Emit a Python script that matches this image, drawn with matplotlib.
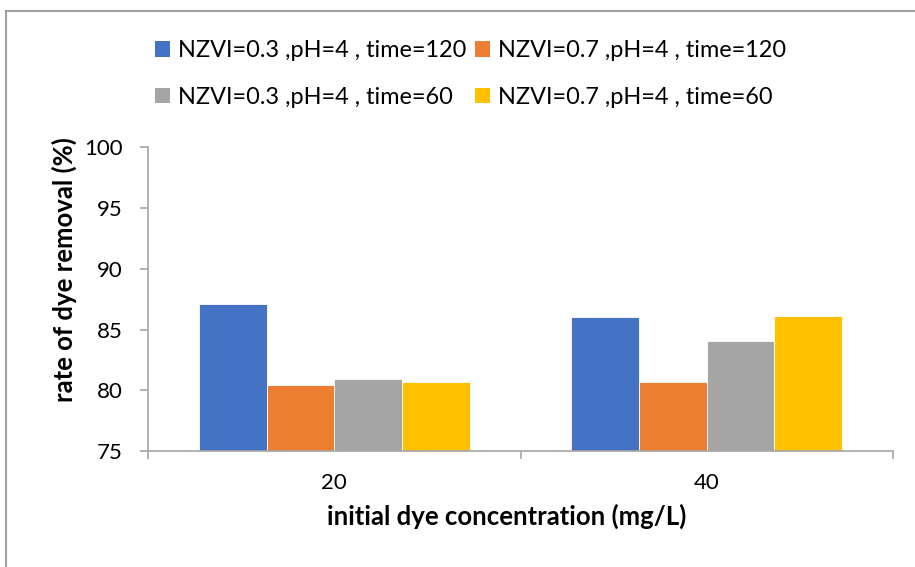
# bar chart: dye removal vs initial dye concentration

import matplotlib.pyplot as plt
from matplotlib.patches import Rectangle, Patch
import numpy as np

plt.rcParams['font.family'] = ['Lato', 'DejaVu Sans']

concentrations = ['20', '40']
series_labels = ['NZVI=0.3 ,pH=4 , time=120', 'NZVI=0.7 ,pH=4 , time=120',
                 'NZVI=0.3 ,pH=4 , time=60', 'NZVI=0.7 ,pH=4 , time=60']
blue_vals = [87.1, 86.0]
orange_vals = [80.4, 80.7]
gray_vals = [80.9, 84.05]
yellow_vals = [80.65, 86.15]
colors = ['#4472c4', '#ed7d31', '#a5a5a5', '#ffc000']

W, H = 915, 567
fig = plt.figure(figsize=(W / 100, H / 100), dpi=100)
ax = fig.add_axes([148 / W, 1 - 451 / H, (893 - 148) / W, (451 - 147.3) / H])

x = np.arange(len(concentrations))
width = 0.1817
all_vals = [blue_vals, orange_vals, gray_vals, yellow_vals]
for i, vals in enumerate(all_vals):
    ax.bar(x + (i - 1.5) * width, np.array(vals) - 75, width, bottom=75,
           color=colors[i], edgecolor='white', linewidth=0.6)

ax.set_xlim(-0.5, 1.5)
ax.set_ylim(75, 100)
ax.set_yticks([75, 80, 85, 90, 95, 100])
ax.set_xticks(x)
ax.set_xticklabels(concentrations)
ax.set_xticks([-0.5, 0.5, 1.5], minor=True)

axis_gray = '#a6a6a6'
for s in ['top', 'right']:
    ax.spines[s].set_visible(False)
for s in ['left', 'bottom']:
    ax.spines[s].set_color(axis_gray)
    ax.spines[s].set_linewidth(1.2)
ax.tick_params(axis='y', length=6, width=1.2, color=axis_gray, labelsize=16, pad=12)
ax.tick_params(axis='x', which='major', length=0, labelsize=16, pad=16)
ax.tick_params(axis='x', which='minor', length=6, width=1.2, color=axis_gray)

fig.text(507 / W, 1 - 516 / H, 'initial dye concentration (mg/L)', ha='center',
         va='center', fontsize=18.5, fontweight='bold')
fig.text(64 / W, 1 - 270 / H, 'rate of dye removal (%)', ha='center',
         va='center', fontsize=18.5, fontweight='bold', rotation=90)

# matplotlib fills legend columns first, so reorder to get Excel's row order
order = [0, 2, 1, 3]
handles = [Patch(facecolor=colors[i], edgecolor='none') for i in order]
labels = [series_labels[i] for i in order]
fig.legend(handles, labels, ncol=2, loc='upper left',
           bbox_to_anchor=(155 / W, 1 - 40 / H), frameon=False, fontsize=16.9,
           handlelength=0.64, handleheight=0.64, handletextpad=0.34,
           columnspacing=0.38, labelspacing=1.1, borderpad=0, borderaxespad=0)

# outer frame of the chart area
fig.patches.append(Rectangle((6 / W, -0.1), 1.2, 1 - 10.5 / H + 0.1,
                             transform=fig.transFigure, fill=False,
                             edgecolor='#a0a0a0', linewidth=1.5))

fig.savefig('out.png', dpi=100)
